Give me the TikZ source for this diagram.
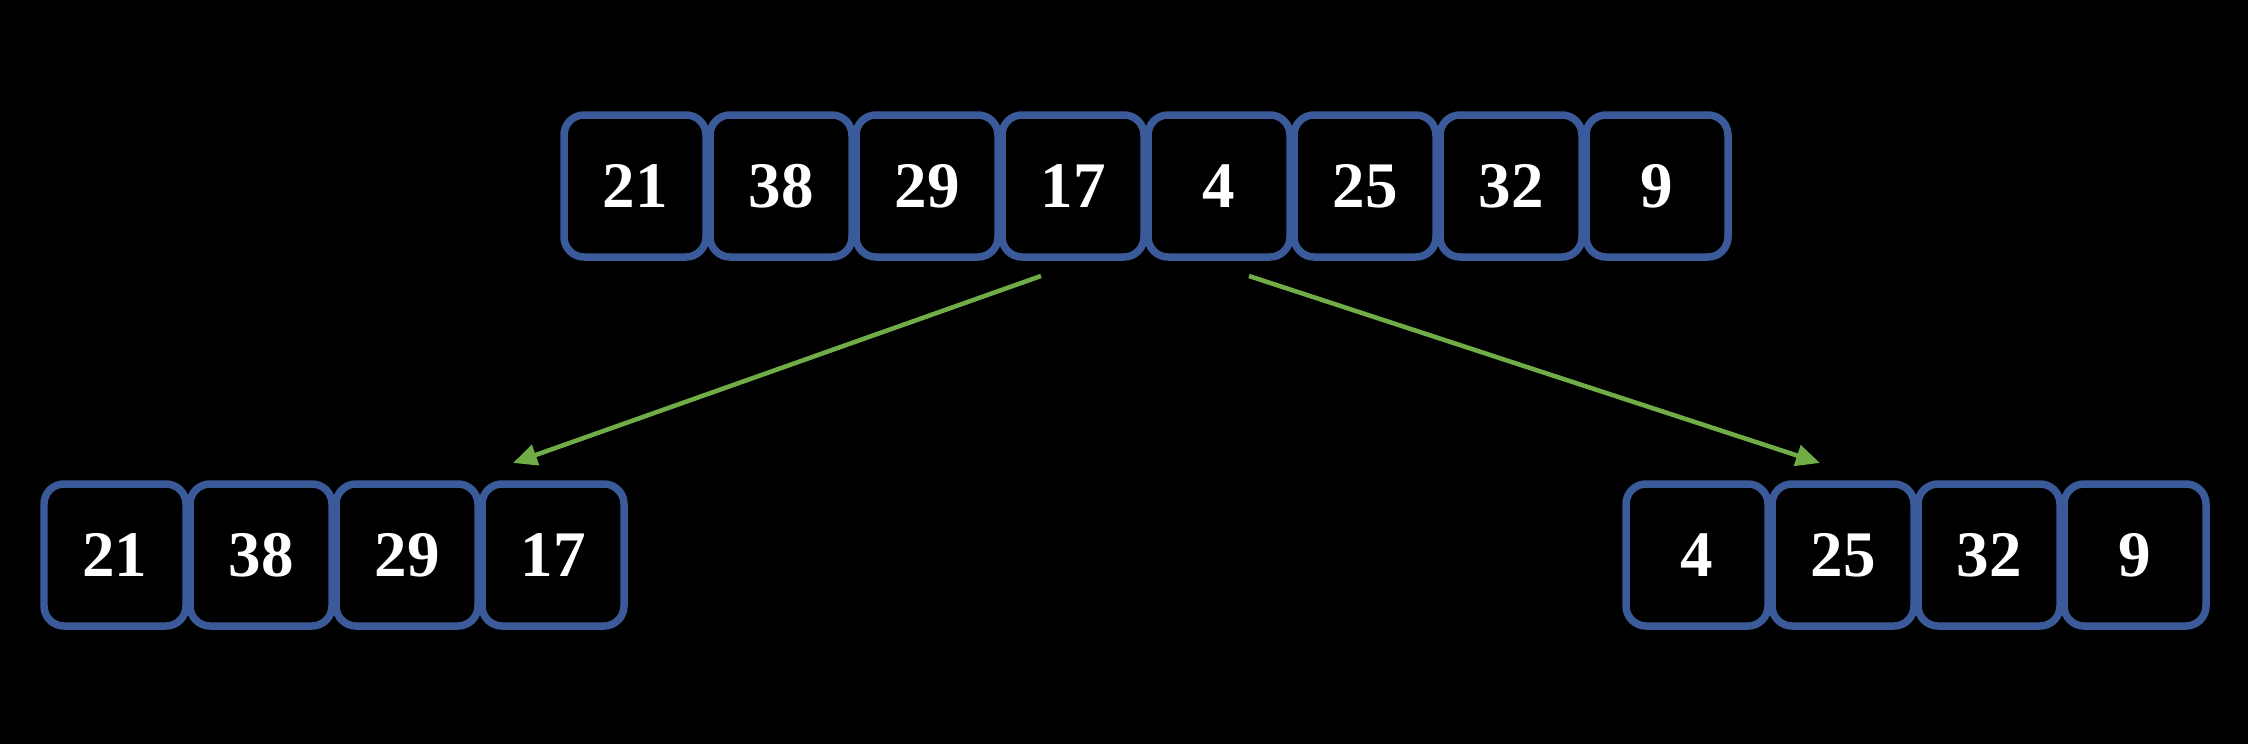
\documentclass[tikz,border=0pt]{standalone}
\usepackage{fontspec}
\setmainfont{Liberation Serif}
\usepackage{tikz}
\usetikzlibrary{positioning,arrows.meta}
\definecolor{cellblue}{RGB}{59,90,153}
\definecolor{splitgreen}{RGB}{112,173,71}

\begin{document}
\begin{tikzpicture}[
  cell/.style={draw=cellblue, line width=0.075cm, rounded corners=0.2cm,
    minimum size=1.42cm, outer sep=0pt, text=white,
    font=\fontsize{18.5}{18.5}\selectfont\bfseries},
  split/.style={draw=splitgreen, line width=0.045cm,
    -{Triangle[length=0.24cm,width=0.21cm]}},
  node distance=0.04cm
]
% background
\fill[black] (0,0) rectangle (22.48,7.44);
\useasboundingbox (0,0) rectangle (22.48,7.44);

% Whole array
\node[cell] (t1) at (6.35,5.58) {21};
\node[cell, right=of t1] (t2) {38};
\node[cell, right=of t2] (t3) {29};
\node[cell, right=of t3] (t4) {17};
\node[cell, right=of t4] (t5) {4};
\node[cell, right=of t5] (t6) {25};
\node[cell, right=of t6] (t7) {32};
\node[cell, right=of t7] (t8) {9};

% Left half
\node[cell] (l1) at (1.15,1.89) {21};
\node[cell, right=of l1] (l2) {38};
\node[cell, right=of l2] (l3) {29};
\node[cell, right=of l3] (l4) {17};

% Right half
\node[cell] (r1) at (16.97,1.89) {4};
\node[cell, right=of r1] (r2) {25};
\node[cell, right=of r2] (r3) {32};
\node[cell, right=of r3] (r4) {9};

\draw[split] ([xshift=-0.32cm,yshift=-0.19cm]t4.south) -- ([xshift=-0.40cm,yshift=0.21cm]l4.north);
\draw[split] ([xshift=0.30cm,yshift=-0.19cm]t5.south) -- ([xshift=-0.23cm,yshift=0.21cm]r2.north);

\end{tikzpicture}
\end{document}
